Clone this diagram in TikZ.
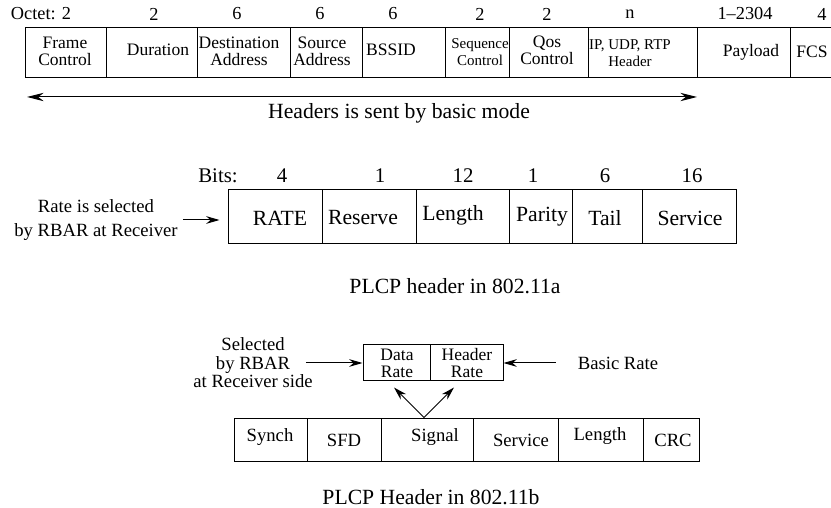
\documentclass[tikz,border=0pt]{standalone}
\usepackage{fontspec}
\setmainfont{Liberation Serif}
\usetikzlibrary{arrows.meta}

\begin{document}
\begin{tikzpicture}[x=0.6pt,y=-0.6pt,
  cell/.style={draw,line width=0.6pt,inner sep=0pt},
  fld/.style={font=\fontsize{10.5}{10.2}\selectfont,align=center,inner sep=0pt},
  sfld/.style={font=\fontsize{9}{10.5}\selectfont,align=center,inner sep=0pt},
  num/.style={font=\fontsize{11}{12}\selectfont,inner sep=0pt},
  bnum/.style={font=\fontsize{12.5}{13}\selectfont,inner sep=0pt},
  bfld/.style={font=\fontsize{13}{14}\selectfont,inner sep=0pt},
  note/.style={font=\fontsize{11.2}{14.4}\selectfont,align=center,inner sep=0pt},
  capt/.style={font=\fontsize{13}{14}\selectfont,inner sep=0pt},
  arr/.style={-{Stealth[length=8pt,width=4.6pt]},line width=0.6pt}]
  \useasboundingbox (0,0) rectangle (831,508);
  \clip (0,0) rectangle (831,508);

  % MAC frame
  \foreach \a/\b/\nm in {25/106/fc, 106/197/dur, 197/290/dst, 290/362/src,
      362/445/bss, 445/509/seq, 509/588/qos, 588/697/ip, 697/790/pay, 790/833/fcs} {
    \pgfmathsetmacro\w{(\b-\a)*0.6}
    \node[cell,minimum width=\w pt,minimum height=30pt] (\nm) at ({(\a+\b)/2},53) {};
  }
  \foreach \x/\t [count=\i] in {41/{Octet: 2}, 154/2, 237/6, 320/6, 393/6,
      480/2, 547/2, 630/n, 745/1--2304, 822/4}
    \node[num] (oct\i) at (\x,14) {\t};
  \foreach \x/\y/\t [count=\i] in {65/51.5/{Frame\\Control}, 158/50/Duration,
      239/51.5/{Destination\\Address}, 322/51.5/{Source\\Address}, 391/50/BSSID,
      547/50/{Qos\\Control}, 751/52/Payload, 812/52/FCS}
    \node[fld] (mac\i) at (\x,\y) {\t};
  \node[sfld] (seqt) at (480,52) {Sequence\\Control};
  \node[sfld] (ipt) at (630,53) {IP, UDP, RTP\\Header};

  \coordinate (hl) at (27,97);
  \coordinate (hr) at (697,97);
  \draw[{Stealth[length=10pt,width=5pt]}-{Stealth[length=10pt,width=5pt]},line width=0.6pt] (hl) -- (hr);
  \node[capt] (basic) at (399,113) {Headers is sent by basic mode};

  % PLCP header 802.11a
  \foreach \a/\b/\nm in {228/322/rate, 322/416/res, 416/509/len,
      509/572/par, 572/642/tail, 642/736/serv} {
    \pgfmathsetmacro\w{(\b-\a)*0.6}
    \node[cell,minimum width=\w pt,minimum height=32.4pt] (\nm) at ({(\a+\b)/2},217) {};
  }
  \foreach \x/\t [count=\i] in {218/Bits:, 282/4, 380/1, 463/12, 533/1, 605/6, 692/16}
    \node[bnum] (bit\i) at (\x,176) {\t};
  \foreach \x/\y/\t [count=\i] in {280/218/RATE, 363/218/Reserve, 453/215/Length,
      542/217/Parity, 605/218/Tail, 690/218/Service}
    \node[bfld] (pa\i) at (\x,\y) {\t};
  \node[note] (rsel) at (96,220) {Rate is selected\\by RBAR at Receiver};
  \draw[arr,shorten <=3pt,shorten >=4.8pt] (rsel.east) -- (rsel.east -| rate.west);
  \node[capt] (capa) at (455,286) {PLCP header in 802.11a};

  % PLCP header 802.11b
  \node[cell,minimum width=40.2pt,minimum height=21.6pt] (dr) at (396.5,363) {};
  \node[cell,minimum width=43.8pt,minimum height=21.6pt] (hrt) at (466.5,363) {};
  \node[fld] (drt) at (397,363.5) {Data\\Rate};
  \node[fld] (hrtt) at (467,363.5) {Header\\Rate};
  \node[note,font=\fontsize{11.2}{11.1}\selectfont] (sel) at (253,363) {Selected\\by RBAR\\at Receiver side};
  \node[note] (bas) at (618,363) {Basic Rate};
  \draw[arr] ([xshift=-4.2pt]sel.east) -- (dr.west);
  \draw[arr,shorten <=13pt] (bas.west) -- (hrt.east);

  \foreach \a/\b/\nm in {234/307/syn, 307/381/sfd, 381/473/sig,
      473/558/svc, 558/643/lng, 643/699/crc} {
    \pgfmathsetmacro\w{(\b-\a)*0.6}
    \node[cell,minimum width=\w pt,minimum height=25.8pt] (\nm) at ({(\a+\b)/2},439.5) {};
  }
  \foreach \x/\y/\t [count=\i] in {270/437/Synch, 344/440/SFD, 435/437/Signal,
      521/440/Service, 600/436/Length, 673/440/CRC}
    \node[note] (pb\i) at (\x,\y) {\t};
  \draw[arr] ([xshift=-1.8pt]sig.north) -- ([xshift=-1.5pt,yshift=-3.6pt]dr.south);
  \draw[arr] ([xshift=-1.8pt]sig.north) -- ([xshift=-7.5pt,yshift=-3.6pt]hrt.south);
  \node[capt] (capb) at (431,497) {PLCP Header in 802.11b};
\end{tikzpicture}
\end{document}
